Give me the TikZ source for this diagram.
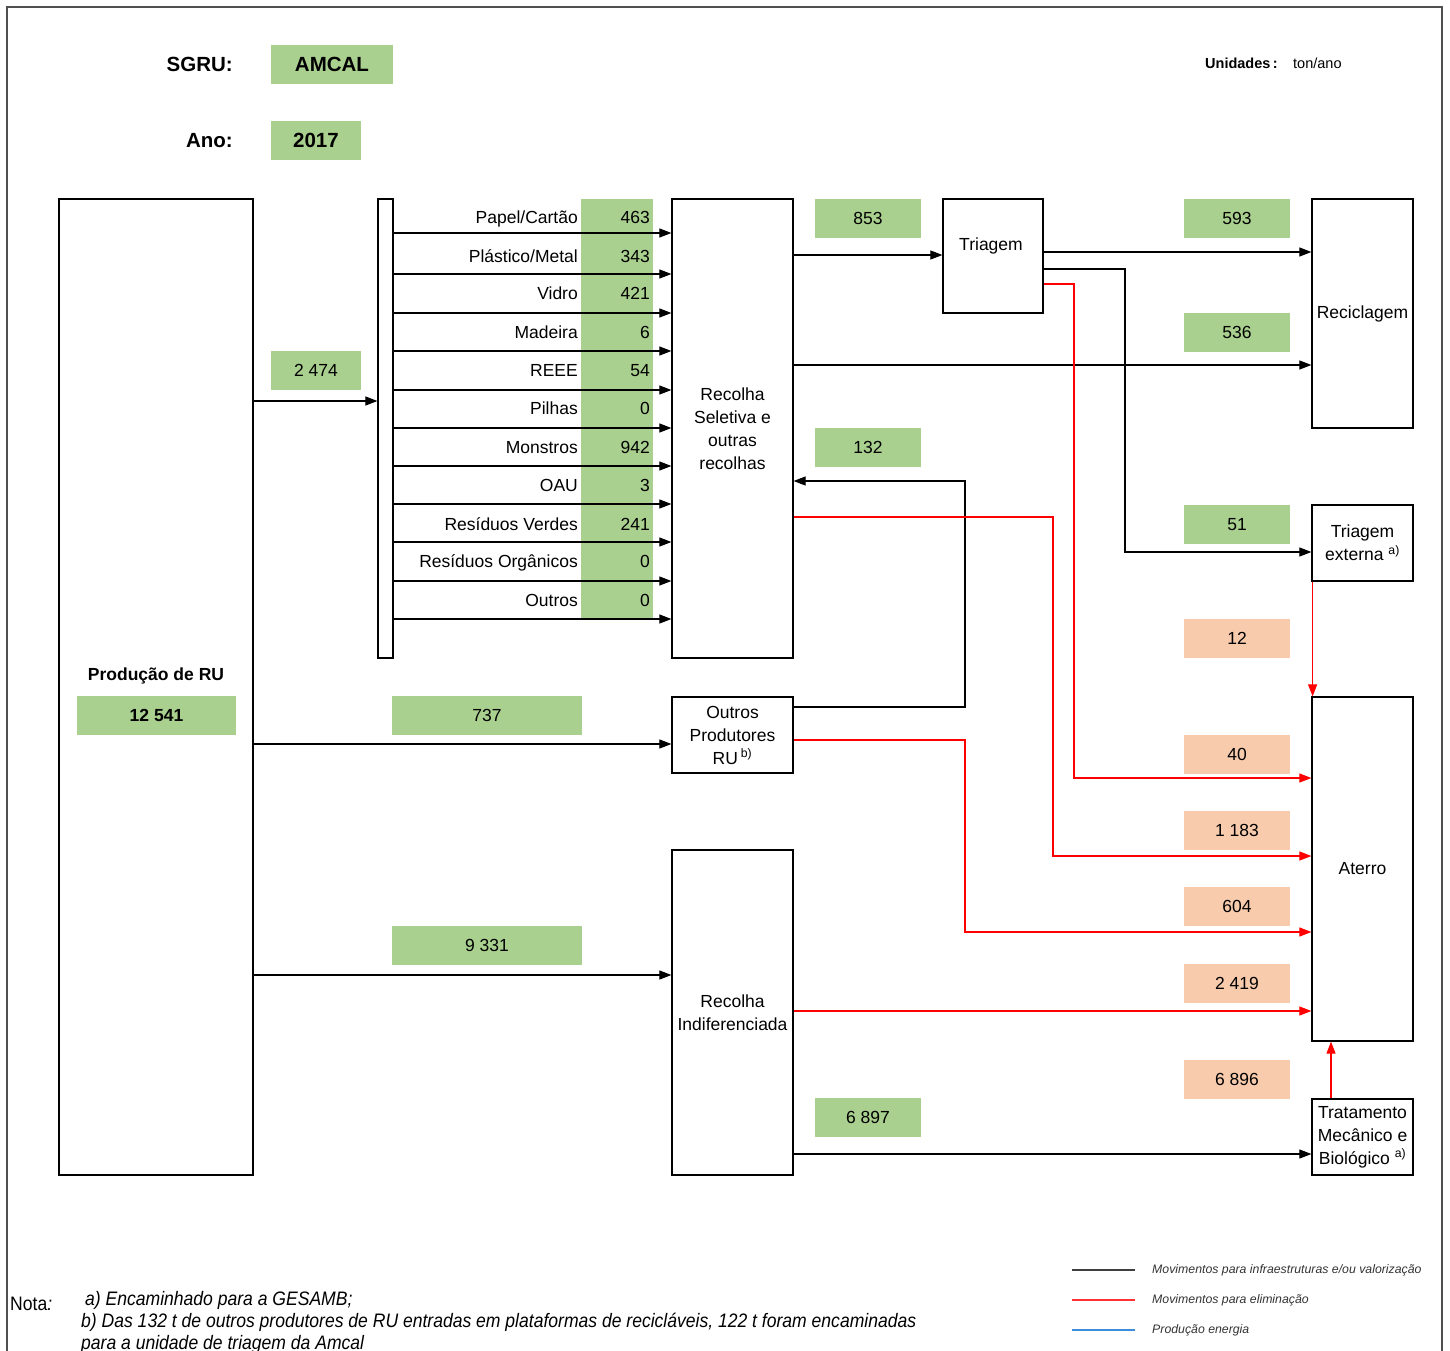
\documentclass[tikz,border=0pt]{standalone}
\usepackage{fontspec}
\setmainfont{Liberation Sans}
\newfontfamily\notefont[FakeStretch=0.9]{Liberation Sans}
\usetikzlibrary{arrows.meta,calc}
\definecolor{gr}{HTML}{A9D08E}
\definecolor{sal}{HTML}{F8CBAD}
\definecolor{frm}{HTML}{505050}
\definecolor{lgblue}{HTML}{3C8DDC}
\newcommand\fsz{\fontsize{17.5}{23}\selectfont}
\newcommand\nsz{\notefont\fontsize{19.5}{22}\selectfont}
\begin{document}
\begin{tikzpicture}[x=1pt,y=-1pt,
  box/.style={draw=black, line width=1.2pt, inner sep=0pt, align=center, font=\fsz},
  lab/.style={inner sep=0pt, text height=12.5pt, text depth=0pt, font=\fsz},
  valg/.style={fill=gr, inner sep=0pt, font=\fsz, text height=12.5pt, text depth=0pt},
  vals/.style={fill=sal, inner sep=0pt, font=\fsz, text height=12.5pt, text depth=0pt},
  arr/.style={-{Triangle[length=12pt,width=9pt]}, line width=1.1pt, draw=black},
  rarr/.style={-{Triangle[length=12pt,width=9pt]}, line width=1.1pt, draw=red},
  lgtxt/.style={anchor=west, inner sep=0pt, font=\fontsize{12.3}{14}\selectfont\itshape, text=black!80}
]
\useasboundingbox (0,0) rectangle (1450,1351);
% frame
\draw[frm, line width=1.5pt] (7,1365) -- (7,7) -- (1442,7) -- (1442,1365);

% header
\node[anchor=east, inner sep=0pt, font=\fontsize{20.5}{24}\selectfont\bfseries] (sgru) at (233,64) {SGRU:};
\node[fill=gr, minimum width=122pt, minimum height=39pt, inner sep=0pt, font=\fontsize{20.5}{24}\selectfont\bfseries] (amcal) at (332,64.5) {AMCAL};
\node[anchor=east, inner sep=0pt, font=\fontsize{20.5}{24}\selectfont\bfseries] (ano) at (233,141) {Ano:};
\node[fill=gr, minimum width=90pt, minimum height=39pt, inner sep=0pt, font=\fontsize{20.5}{24}\selectfont\bfseries] (year) at (316,140.5) {2017};
\node[anchor=west, inner sep=0pt, font=\fontsize{14.5}{16}\selectfont\bfseries] (unid) at (1205,63) {Unidades\,:};
\node[anchor=west, inner sep=0pt, font=\fontsize{14.5}{16}\selectfont] (tonano) at (1293,63) {ton/ano};

% green column behind rows
\node[fill=gr, minimum width=72pt, minimum height=420pt, inner sep=0pt] (gcol) at (617,409) {};

% boxes
\node[box, minimum width=194pt, minimum height=976pt] (prod) at (156,687) {};
\node[anchor=center, inner sep=0pt, font=\fsz\bfseries] (prodt) at (156,676) {Produção de RU};
\node[valg, font=\fsz\bfseries, minimum width=159pt, minimum height=39pt] (v12541) at (156.5,715.5) {12 541};
\node[box, minimum width=15pt, minimum height=459pt] (coll) at (385.5,428.5) {};
\node[box, minimum width=121pt, minimum height=459pt] (rs) at (732.5,428.5) {Recolha\\Seletiva e\\outras\\recolhas};
\node[box, minimum width=121pt, minimum height=76pt] (op) at (732.5,735) {Outros\\Produtores\\RU\,\textsuperscript{b)}};
\node[box, minimum width=121pt, minimum height=325pt] (ri) at (732.5,1012.5) {Recolha\\Indiferenciada};
\node[box, minimum width=100pt, minimum height=114pt] (tri) at (993,256) {};
\node[lab] (trit) at (991,244) {Triagem};
\node[box, minimum width=101pt, minimum height=229pt] (rec) at (1362.5,313.5) {Reciclagem};
\node[box, minimum width=101pt, minimum height=76pt] (tex) at (1362.5,543) {Triagem\\externa \textsuperscript{a)}};
\node[box, minimum width=101pt, minimum height=344pt] (ate) at (1362.5,869) {Aterro};
\node[box, minimum width=101pt, minimum height=76pt] (tmb) at (1362.5,1137) {Tratamento\\Mecânico e\\Biológico \textsuperscript{a)}};

% row labels and values
\node[lab, anchor=east] (l1) at (578,217) {Papel/Cartão};
\node[lab, anchor=east] (n1) at (650,217) {463};
\node[lab, anchor=east] (l2) at (578,256) {Plástico/Metal};
\node[lab, anchor=east] (n2) at (650,256) {343};
\node[lab, anchor=east] (l3) at (578,293) {Vidro};
\node[lab, anchor=east] (n3) at (650,293) {421};
\node[lab, anchor=east] (l4) at (578,332) {Madeira};
\node[lab, anchor=east] (n4) at (650,332) {6};
\node[lab, anchor=east] (l5) at (578,370) {REEE};
\node[lab, anchor=east] (n5) at (650,370) {54};
\node[lab, anchor=east] (l6) at (578,408) {Pilhas};
\node[lab, anchor=east] (n6) at (650,408) {0};
\node[lab, anchor=east] (l7) at (578,447) {Monstros};
\node[lab, anchor=east] (n7) at (650,447) {942};
\node[lab, anchor=east] (l8) at (578,485) {OAU};
\node[lab, anchor=east] (n8) at (650,485) {3};
\node[lab, anchor=east] (l9) at (578,524) {Resíduos Verdes};
\node[lab, anchor=east] (n9) at (650,524) {241};
\node[lab, anchor=east] (l10) at (578,561) {Resíduos Orgânicos};
\node[lab, anchor=east] (n10) at (650,561) {0};
\node[lab, anchor=east] (l11) at (578,600) {Outros};
\node[lab, anchor=east] (n11) at (650,600) {0};

% value boxes
\node[valg, minimum width=90pt, minimum height=39pt] (v2474) at (316,370.5) {2 474};
\node[valg, minimum width=190pt, minimum height=39pt] (v737) at (487,715.5) {737};
\node[valg, minimum width=190pt, minimum height=39pt] (v9331) at (487,945.5) {9 331};
\node[valg, minimum width=106pt, minimum height=39pt] (v853) at (868,218.5) {853};
\node[valg, minimum width=106pt, minimum height=39pt] (v132) at (868,447.5) {132};
\node[valg, minimum width=106pt, minimum height=39pt] (v6897) at (868,1117.5) {6 897};
\node[valg, minimum width=106pt, minimum height=39pt] (v593) at (1237,218.5) {593};
\node[valg, minimum width=106pt, minimum height=39pt] (v536) at (1237,332.5) {536};
\node[valg, minimum width=106pt, minimum height=39pt] (v51) at (1237,524.5) {51};
\node[vals, minimum width=106pt, minimum height=39pt] (v12) at (1237,638.5) {12};
\node[vals, minimum width=106pt, minimum height=39pt] (v40) at (1237,754.5) {40};
\node[vals, minimum width=106pt, minimum height=39pt] (v1183) at (1237,830.5) {1 183};
\node[vals, minimum width=106pt, minimum height=39pt] (v604) at (1237,906.5) {604};
\node[vals, minimum width=106pt, minimum height=39pt] (v2419) at (1237,983.5) {2 419};
\node[vals, minimum width=106pt, minimum height=39pt] (v6896) at (1237,1079.5) {6 896};

% connectors
\draw[arr] (prod.east |- 0,401) -- (coll.west |- 0,401);
\foreach \yy in {233,274,313,351,390,428,466,504,542,581,619}
  \draw[arr] (coll.east |- 0,\yy) -- (rs.west |- 0,\yy);
\draw[arr] (prod.east |- 0,744) -- (op.west |- 0,744);
\draw[arr] (prod.east |- 0,975) -- (ri.west |- 0,975);
\draw[arr] (rs.east |- 0,255) -- (tri.west |- 0,255);
\draw[arr] (tri.east |- 0,252) -- (rec.west |- 0,252);
\draw[arr] (rs.east |- 0,365) -- (rec.west |- 0,365);
\draw[arr] (tri.east |- 0,269) -- (1125,269) |- (tex.west |- 0,552);
\draw[arr] (op.east |- 0,707) -- (965,707) |- (rs.east |- 0,481);
\draw[arr] (ri.east |- 0,1154) -- (tmb.west |- 0,1154);
\draw[rarr] (tri.east |- 0,284) -- (1074,284) |- (ate.west |- 0,778);
\draw[rarr] (rs.east |- 0,517) -- (1053,517) |- (ate.west |- 0,856);
\draw[rarr] (op.east |- 0,740) -- (965,740) |- (ate.west |- 0,932);
\draw[rarr] (ri.east |- 0,1011) -- (ate.west |- 0,1011);
\draw[rarr] ([xshift=1.2pt]tex.south west) -- ([xshift=1.2pt]ate.north west);
\draw[rarr] (tmb.north -| 1331,0) -- (ate.south -| 1331,0);

% legend
\coordinate (lg1a) at (1072,1270); \coordinate (lg1b) at (1135,1270);
\coordinate (lg2a) at (1072,1300); \coordinate (lg2b) at (1135,1300);
\coordinate (lg3a) at (1072,1330); \coordinate (lg3b) at (1135,1330);
\draw[black!75, line width=1.1pt] (lg1a) -- (lg1b);
\draw[red!80, line width=1.1pt] (lg2a) -- (lg2b);
\draw[lgblue, line width=1.1pt] (lg3a) -- (lg3b);
\node[lgtxt] (lgt1) at (1152,1270) {Movimentos para infraestruturas e/ou valorização};
\node[lgtxt] (lgt2) at (1152,1300) {Movimentos para eliminação};
\node[lgtxt] (lgt3) at (1152,1330) {Produção energia};

% notes
\node[anchor=west, inner sep=0pt, font=\nsz] (nota) at (10,1304) {Nota\textit{:}};
\node[anchor=west, inner sep=0pt, font=\nsz\itshape] (na) at (85,1300) {a) Encaminhado para a GESAMB;};
\node[anchor=west, inner sep=0pt, font=\nsz\itshape] (nb) at (81,1322) {b) Das 132 t de outros produtores de RU entradas em plataformas de recicláveis, 122 t foram encaminadas};
\node[anchor=west, inner sep=0pt, font=\nsz\itshape] (nc) at (81,1344) {para a unidade de triagem da Amcal};
\end{tikzpicture}
\end{document}
